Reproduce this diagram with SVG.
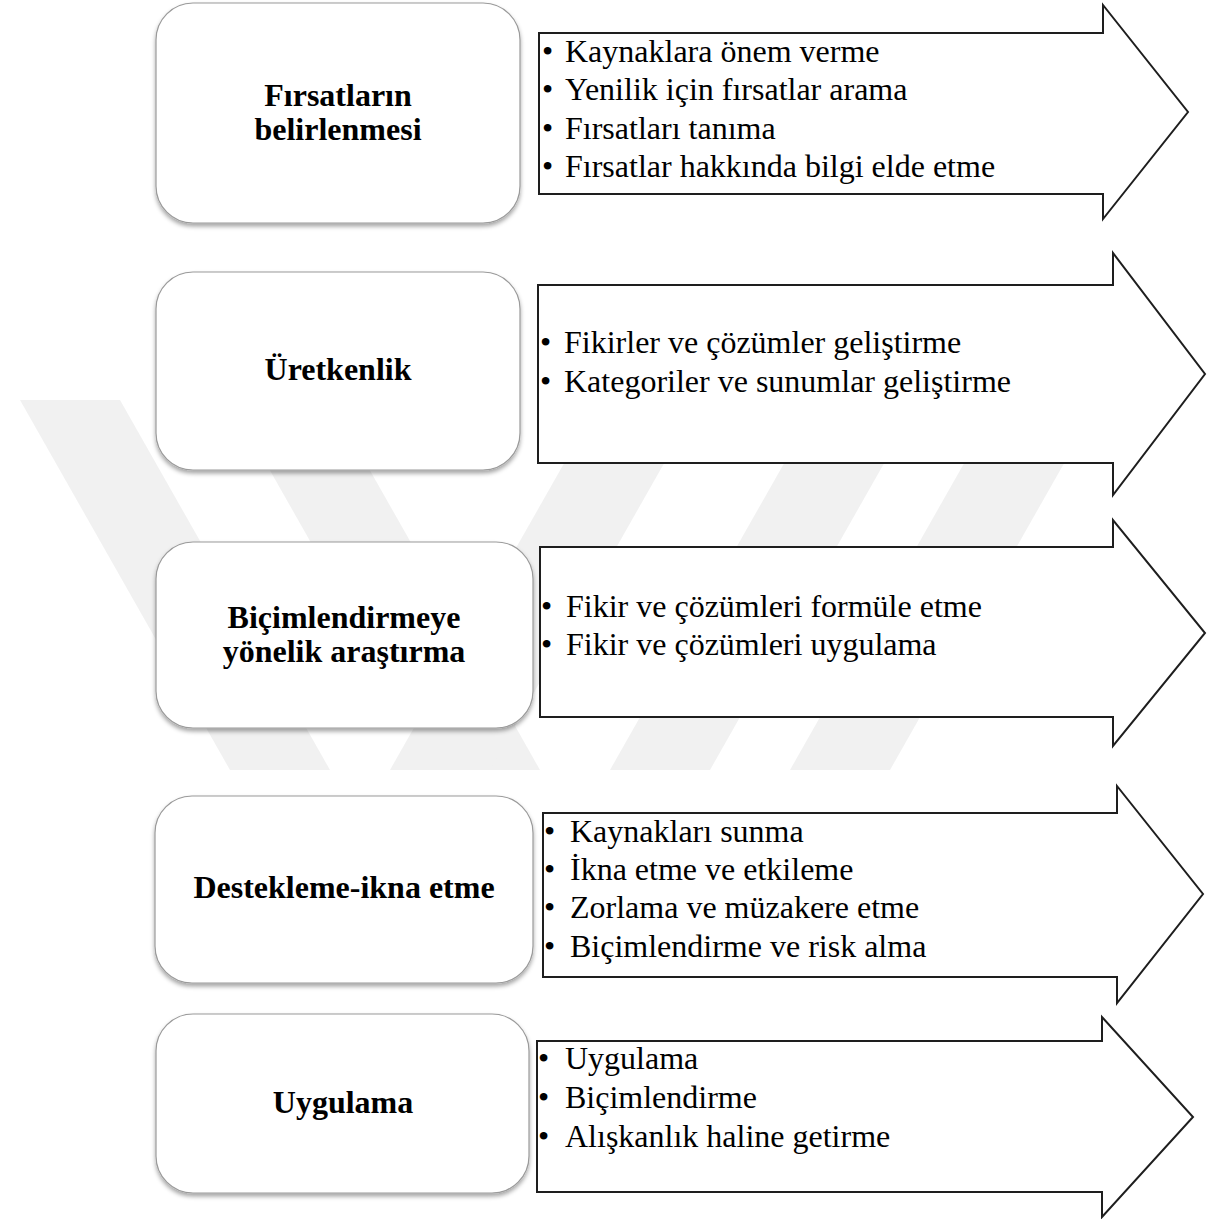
<svg xmlns="http://www.w3.org/2000/svg" width="1219" height="1219" viewBox="0 0 1219 1219">
<defs>
<filter id="sh" x="-10%" y="-10%" width="120%" height="130%">
<feDropShadow dx="0" dy="3" stdDeviation="2.2" flood-color="#000" flood-opacity="0.35"/>
</filter>
<style>
.box{fill:#fff;stroke:#9a9a9a;stroke-width:1.2;filter:url(#sh)}
.arr{fill:#fff;stroke:#1e1e1e;stroke-width:2;stroke-linejoin:miter}
.t{font-family:"Liberation Serif","Times New Roman",serif;font-size:32px;font-weight:bold;fill:#000;text-anchor:middle}
.i{font-family:"Liberation Serif","Times New Roman",serif;font-size:32px;fill:#000}
.wm{fill:#f1f1f1}
</style>
</defs>
<rect width="1219" height="1219" fill="#fff"/>
<g id="watermark">
<polygon class="wm" points="20,400 120,400 330,770 230,770"/>
<polygon class="wm" points="230,400 330,400 540,770 440,770"/>
<polygon class="wm" points="600,400 700,400 490,770 390,770"/>
<polygon class="wm" points="820,400 920,400 710,770 610,770"/>
<polygon class="wm" points="1000,400 1100,400 890,770 790,770"/>
</g>
<g id="connectors"></g>
<g id="node1">
<rect class="box" x="156" y="3" width="364" height="220" rx="37"/>
<text class="t" x="338" y="106">Fırsatların</text>
<text class="t" x="338" y="140">belirlenmesi</text>
</g>
<g id="arrow1">
<path class="arr" d="M539,33 H1103 V5 L1188,112 L1103,219 V194 H539 Z"/>
<text class="i" x="542" y="62">•</text><text class="i" x="565" y="62">Kaynaklara önem verme</text>
<text class="i" x="542" y="100">•</text><text class="i" x="565" y="100">Yenilik için fırsatlar arama</text>
<text class="i" x="542" y="139">•</text><text class="i" x="565" y="139">Fırsatları tanıma</text>
<text class="i" x="542" y="177">•</text><text class="i" x="565" y="177">Fırsatlar hakkında bilgi elde etme</text>
</g>
<g id="node2">
<rect class="box" x="156" y="272" width="364" height="198" rx="37"/>
<text class="t" x="338" y="380">Üretkenlik</text>
</g>
<g id="arrow2">
<path class="arr" d="M538,285 H1113 V253 L1205,374 L1113,495 V463 H538 Z"/>
<text class="i" x="540" y="353">•</text><text class="i" x="564" y="353">Fikirler ve çözümler geliştirme</text>
<text class="i" x="540" y="392">•</text><text class="i" x="564" y="392">Kategoriler ve sunumlar geliştirme</text>
</g>
<g id="node3">
<rect class="box" x="156" y="542" width="377" height="186" rx="37"/>
<text class="t" x="344" y="628">Biçimlendirmeye</text>
<text class="t" x="344" y="662">yönelik araştırma</text>
</g>
<g id="arrow3">
<path class="arr" d="M540,547 H1113 V520 L1205,633 L1113,746 V717 H540 Z"/>
<text class="i" x="541" y="617">•</text><text class="i" x="566" y="617">Fikir ve çözümleri formüle etme</text>
<text class="i" x="541" y="655">•</text><text class="i" x="566" y="655">Fikir ve çözümleri uygulama</text>
</g>
<g id="node4">
<rect class="box" x="155" y="796" width="378" height="187" rx="37"/>
<text class="t" x="344" y="898">Destekleme-ikna etme</text>
</g>
<g id="arrow4">
<path class="arr" d="M543,813 H1117 V786 L1203,894 L1117,1003 V977 H543 Z"/>
<text class="i" x="544" y="842">•</text><text class="i" x="570" y="842">Kaynakları sunma</text>
<text class="i" x="544" y="880">•</text><text class="i" x="570" y="880">İkna etme ve etkileme</text>
<text class="i" x="544" y="918">•</text><text class="i" x="570" y="918">Zorlama ve müzakere etme</text>
<text class="i" x="544" y="957">•</text><text class="i" x="570" y="957">Biçimlendirme ve risk alma</text>
</g>
<g id="node5">
<rect class="box" x="156" y="1014" width="373" height="179" rx="37"/>
<text class="t" x="343" y="1113">Uygulama</text>
</g>
<g id="arrow5">
<path class="arr" d="M537,1041 H1102 V1017 L1193,1117 L1102,1217 V1192 H537 Z"/>
<text class="i" x="538" y="1069">•</text><text class="i" x="565" y="1069">Uygulama</text>
<text class="i" x="538" y="1108">•</text><text class="i" x="565" y="1108">Biçimlendirme</text>
<text class="i" x="538" y="1147">•</text><text class="i" x="565" y="1147">Alışkanlık haline getirme</text>
</g>
</svg>
